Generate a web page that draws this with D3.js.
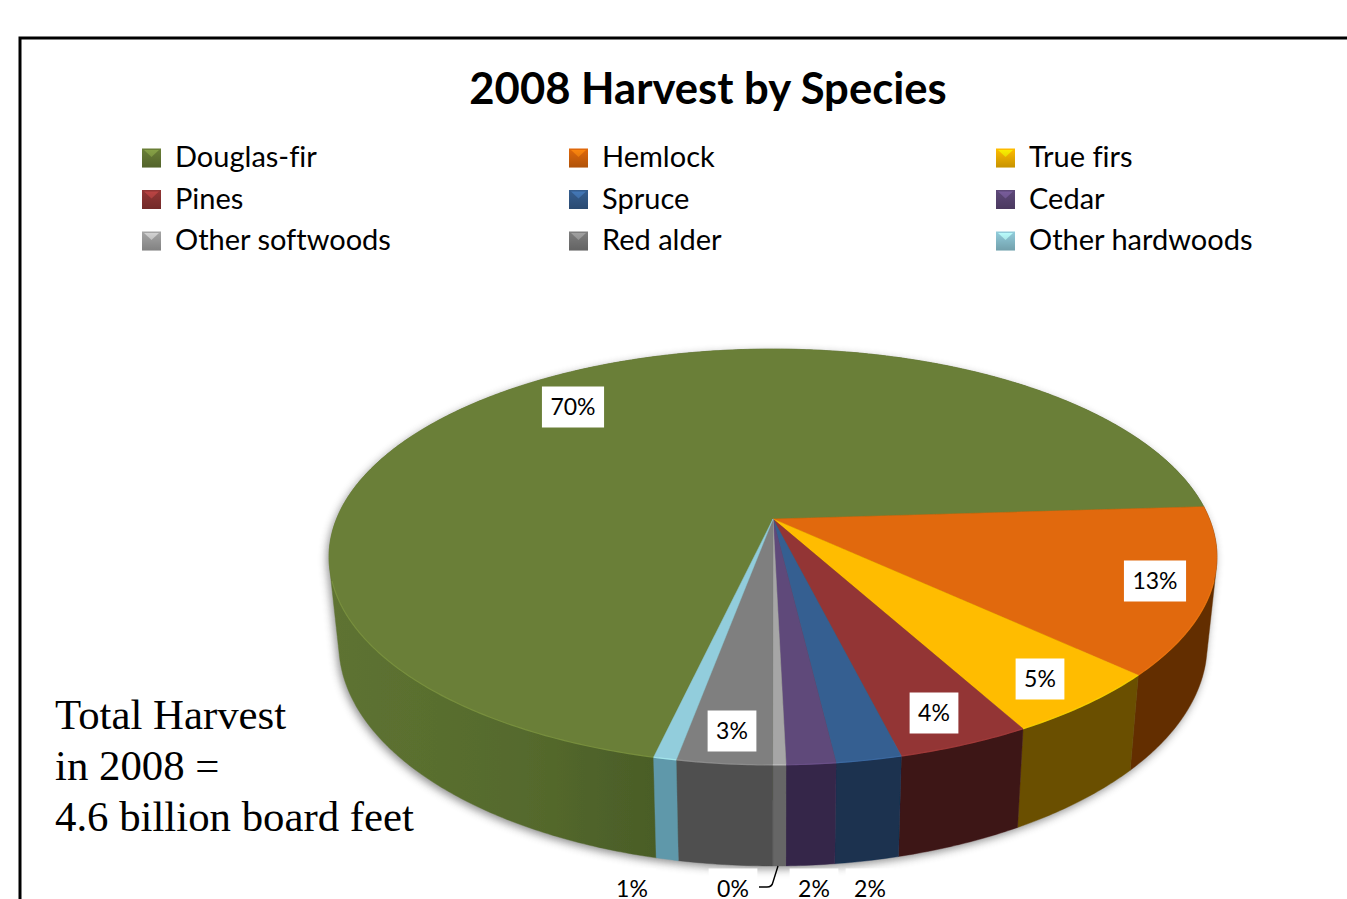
<!DOCTYPE html>
<html lang="en">
<head>
<meta charset="utf-8">
<title>2008 Harvest by Species</title>
<script src="https://d3js.org/d3.v7.min.js"></script>
<style>
  html, body { margin: 0; padding: 0; background: #fff; overflow: hidden; }
  text { font-family: Lato, "Open Sans", sans-serif; fill: #000; font-variant-ligatures: none; }
  .note { font-family: "Liberation Serif", serif; font-size: 42.8px; }
</style>
</head>
<body>
<div id="chart"></div>
<script>
// data, in the order the slices run round the pie
var species = ["Douglas-fir", "Hemlock", "True firs", "Pines", "Spruce", "Cedar", "Other softwoods", "Red alder", "Other hardwoods"];
var shares = [70.4, 12.9, 5.1, 4.1, 2.0, 1.5, 0.4, 2.9, 0.7];
var noteLines = ["Total Harvest", "in 2008 =", "4.6 billion board feet"];

var topColors = ["#6a7f37", "#e1690b", "#ffbc00", "#933635", "#365f91", "#5f497a", "#a6a6a6", "#7f7f7f", "#92cddc"];
var sideColors = ["url(#firSide)", "#632f00", "#6b4f00", "#3e1414", "#1a3050", "#35264a", "#666666", "#4f4f4f", "#5f98aa"];

var width = 1347, height = 899;
var cx = 773, cy = 519;          // apex of the pie on screen
var a = 436.5, b = 201, k = 0.1827; // perspective of the disc
var depth = {sx: 0.978, sy: 1.067, shift: 84.6};

var svg = d3.select("#chart").append("svg")
  .attr("width", width).attr("height", height)
  .style("display", "block");

var defs = svg.append("defs");
var grad = defs.append("linearGradient").attr("id", "firSide")
  .attr("gradientUnits", "userSpaceOnUse")
  .attr("x1", 330).attr("x2", 655).attr("y1", 0).attr("y2", 0);
grad.append("stop").attr("offset", "0").attr("stop-color", "#5e7331");
grad.append("stop").attr("offset", "0.6").attr("stop-color", "#556a2d");
grad.append("stop").attr("offset", "1").attr("stop-color", "#4a5d27");

var markerShade = defs.append("linearGradient").attr("id", "markerShade")
  .attr("x1", 0).attr("x2", 0).attr("y1", 0).attr("y2", 1);
markerShade.append("stop").attr("offset", "0").attr("stop-color", "#000").attr("stop-opacity", 0);
markerShade.append("stop").attr("offset", "1").attr("stop-color", "#000").attr("stop-opacity", 0.22);

defs.append("filter").attr("id", "soft")
  .attr("x", "-10%").attr("y", "-10%").attr("width", "120%").attr("height", "120%")
  .append("feGaussianBlur").attr("stdDeviation", 4);
defs.append("filter").attr("id", "faint")
  .attr("x", "-5%").attr("y", "-5%").attr("width", "110%").attr("height", "110%")
  .append("feGaussianBlur").attr("stdDeviation", 0.5);

// frame
svg.append("path")
  .attr("d", d3.line()([[20, height], [20, 38], [width, 38]]))
  .attr("fill", "none").attr("stroke", "#000").attr("stroke-width", 3);

// title
svg.append("text")
  .attr("x", 708).attr("y", 104)
  .attr("text-anchor", "middle")
  .style("font-size", "43.6px").style("font-weight", 700)
  .text("2008 Harvest by Species");

// legend
var legendX = d3.scalePoint().domain([0, 1, 2]).range([142, 996]);
var legendY = d3.scalePoint().domain([0, 1, 2]).range([158, 241]);
var legend = svg.selectAll(".legendItem").data(species).enter().append("g")
  .attr("class", "legendItem")
  .attr("transform", function(d, i) {
    return "translate(" + legendX(i % 3) + "," + legendY(Math.floor(i / 3)) + ")";
  });
legend.append("rect")
  .attr("x", 0).attr("y", -9.5).attr("width", 19).attr("height", 19)
  .attr("fill", function(d, i) { return topColors[i]; });
legend.append("path")
  .attr("d", d3.line()([[2, -8], [17, -8], [9.5, -1]]))
  .attr("fill", function(d, i) { return d3.color(topColors[i]).brighter(0.7); });
legend.append("rect")
  .attr("x", 0).attr("y", -9.5).attr("width", 19).attr("height", 19)
  .attr("fill", "url(#markerShade)");
legend.append("text")
  .attr("x", 33).attr("y", 9)
  .style("font-size", "29px")
  .text(function(d) { return d; });

// perspective disc: angle in d3.pie terms, r from 0 to 1
function project(angle, r) {
  var u = r * Math.sin(angle), v = -r * Math.cos(angle);
  var w = 1 - k * v;
  return [cx + a * u / w, cy + b * v / w];
}
function lower(p) {
  return [cx + depth.sx * (p[0] - cx), cy + depth.shift + depth.sy * (p[1] - cy)];
}
function rim(a0, a1) {
  var n = Math.max(2, Math.ceil((a1 - a0) / 0.01));
  return d3.range(n + 1).map(function(i) {
    return project(a0 + (a1 - a0) * i / n, 1);
  });
}

var start = -167 * Math.PI / 180;
var pie = d3.pie().sort(null).startAngle(start).endAngle(start + 2 * Math.PI);
var slices = pie(shares);
var line = d3.line();

// soft shadow below the base
var whole = rim(0, 2 * Math.PI);
svg.append("path")
  .attr("d", line(d3.polygonHull(whole.concat(whole.map(lower))).map(function(p) { return [p[0] - 2, p[1] + 3]; })) + "Z")
  .attr("fill", "#555").attr("opacity", 0.65)
  .attr("filter", "url(#soft)");

var chart = svg.append("g").attr("filter", "url(#faint)");

// side walls: hull of rim and base so the silhouette stays straight at the sides
chart.selectAll(".side").data(slices).enter().append("path")
  .attr("class", "side")
  .attr("d", function(d) {
    var pts = rim(d.startAngle, d.endAngle);
    return line(d3.polygonHull(pts.concat(pts.map(lower)))) + "Z";
  })
  .attr("fill", function(d, i) { return sideColors[i]; })
  .attr("stroke", function(d, i) { return sideColors[i]; })
  .attr("stroke-width", 0.4);

// top faces
chart.selectAll(".top").data(slices).enter().append("path")
  .attr("class", "top")
  .attr("d", function(d) {
    return line([[cx, cy]].concat(rim(d.startAngle, d.endAngle))) + "Z";
  })
  .attr("fill", function(d, i) { return topColors[i]; })
  .attr("stroke", function(d, i) { return topColors[i]; })
  .attr("stroke-width", 0.5);

// small highlight on the front rim
chart.selectAll(".edge").data(slices).enter().append("path")
  .attr("class", "edge")
  .attr("d", function(d) {
    var front = rim(d.startAngle, d.endAngle).filter(function(p) { return p[1] > cy + 60; });
    return front.length ? line(front) : null;
  })
  .attr("fill", "none")
  .attr("stroke", function(d, i) { return d3.color(topColors[i]).brighter(0.6); })
  .attr("stroke-width", 1.2)
  .attr("opacity", 0.6);

// data labels
var fmt = function(v) { return Math.round(v) + "%"; };
var labelPositions = [[573, 407], [1155, 581], [1040, 679], [934, 713], [870, 889], [814, 889], [733, 889], [732, 731], [632, 889]];
var labels = svg.selectAll(".dataLabel").data(slices).enter().append("g")
  .attr("class", "dataLabel")
  .attr("transform", function(d, i) { return "translate(" + labelPositions[i] + ")"; });
labels.append("rect")
  .attr("fill", "#fff");
labels.append("text")
  .attr("text-anchor", "middle").attr("y", 8)
  .style("font-size", "23px")
  .text(function(d) { return fmt(d.value); });
labels.each(function() {
  var g = d3.select(this);
  var w = g.select("text").node().getComputedTextLength() + 17;
  g.select("rect").attr("x", -w / 2).attr("y", -20.5).attr("width", w).attr("height", 41);
});

// leader for the 0% label
svg.append("path")
  .attr("d", "M778,866 L773,882 Q772,887 767,887 L759,887")
  .attr("fill", "none").attr("stroke", "#000").attr("stroke-width", 1.4);

// note on the left
svg.selectAll(".note").data(noteLines).enter().append("text")
  .attr("class", "note")
  .attr("x", 55)
  .attr("y", function(d, i) { return 729 + i * 51; })
  .text(function(d) { return d; });
</script>
</body>
</html>
